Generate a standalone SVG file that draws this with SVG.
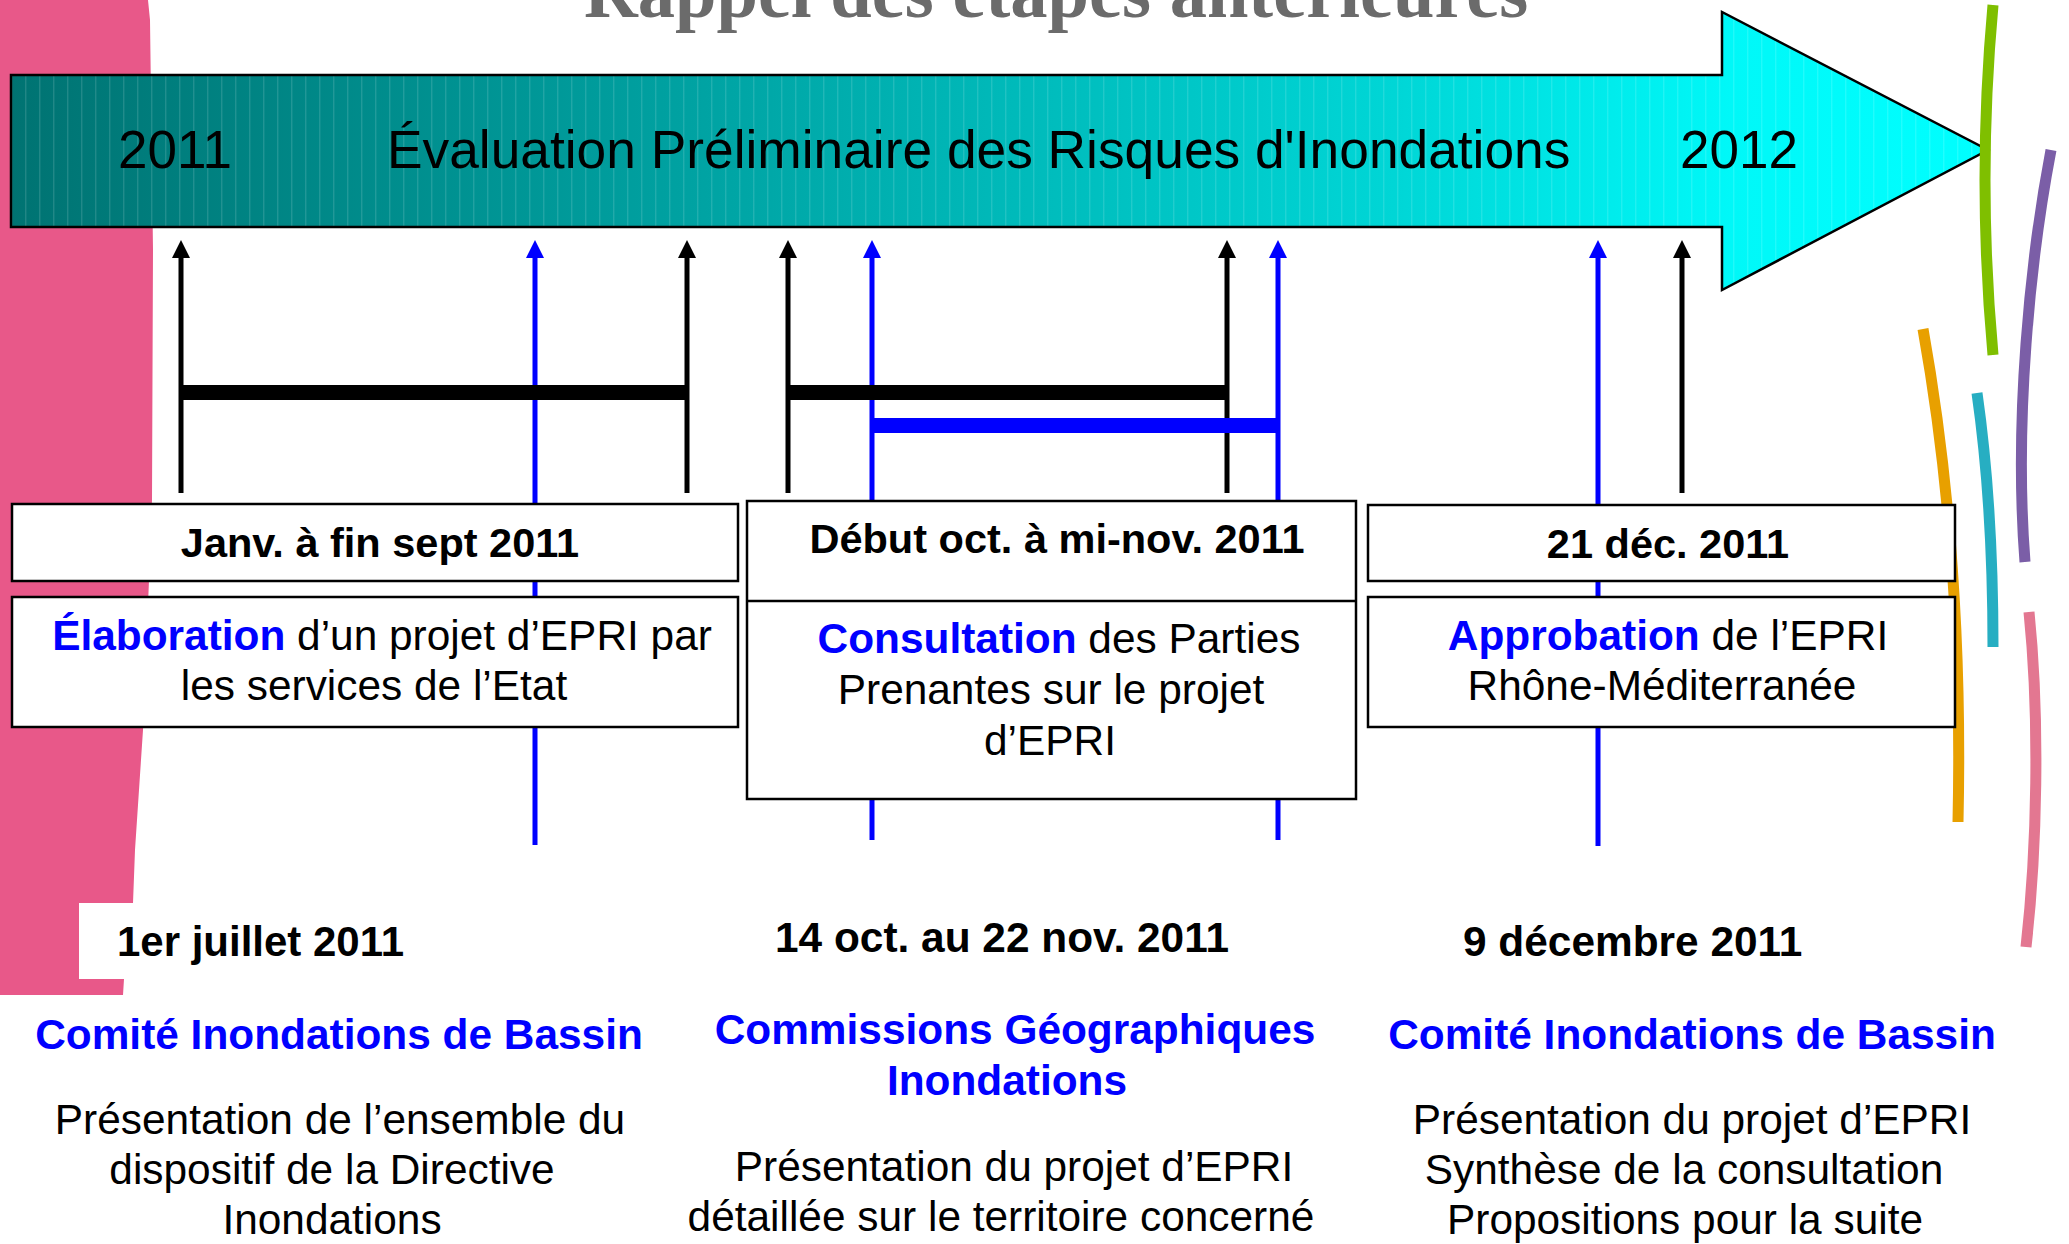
<svg xmlns="http://www.w3.org/2000/svg" width="2069" height="1244" viewBox="0 0 2069 1244">
<style>
.t{font-family:"Liberation Sans",Arial,sans-serif;fill:#000}
.b{font-weight:bold}
.blue{fill:#0000ff}
.f41{font-size:41.5px}
.f42{font-size:42.4px}
.mid{text-anchor:middle}
.box{fill:#fff;stroke:#000;stroke-width:2.5}
.vk{stroke:#000;stroke-width:5;fill:none}
.vb{stroke:#0000ff;stroke-width:5;fill:none}
.arc{fill:none;stroke-width:11}
</style>
<defs>
<linearGradient id="gBanner" x1="11" y1="0" x2="1988" y2="0" gradientUnits="userSpaceOnUse">
<stop offset="0" stop-color="#007372"/>
<stop offset="0.35" stop-color="#00a3a3"/>
<stop offset="0.7" stop-color="#00d6d6"/>
<stop offset="0.87" stop-color="#00f8f8"/>
<stop offset="1" stop-color="#00ffff"/>
</linearGradient>
<pattern id="pStripe" x="11" y="0" width="14" height="20" patternUnits="userSpaceOnUse">
<rect x="0" y="0" width="1.4" height="20" fill="#ffffff" fill-opacity="0.13"/>
</pattern>
<marker id="mK" viewBox="0 0 18 18" refX="8" refY="9" markerWidth="18" markerHeight="18" markerUnits="userSpaceOnUse" orient="auto">
<path d="M0,0 L18,9 L0,18 Z" fill="#000"/>
</marker>
<marker id="mB" viewBox="0 0 18 18" refX="8" refY="9" markerWidth="18" markerHeight="18" markerUnits="userSpaceOnUse" orient="auto">
<path d="M0,0 L18,9 L0,18 Z" fill="#0000ff"/>
</marker>
</defs>

<!-- pink side band -->
<path id="pinkBand" d="M0,0 L148,0 L150,20 L153,250 L152,500 L149,580 L143,730 L135,850 L133,903 L79,903 L79,979 L124,979 L123,995 L0,995 Z" fill="#e85889"/>

<!-- title (cut off at the top edge, as in the reference) -->
<text id="title" x="584" y="17" font-family="'Liberation Serif','Times New Roman',serif" font-weight="bold" font-size="74.5" fill="#6b6b6b">Rappel des étapes antérieures</text>

<!-- banner arrow -->
<g id="banner">
<path d="M11,75 H1722 V12 L1988,150 L1722,290 V227 H11 Z" fill="url(#gBanner)"/>
<path d="M11,75 H1722 V12 L1988,150 L1722,290 V227 H11 Z" fill="url(#pStripe)" stroke="#000" stroke-width="2.5"/>
<text class="t" x="118" y="168" font-size="53">2011</text>
<text class="t" x="387" y="168" font-size="53.3">Évaluation Préliminaire des Risques d'Inondations</text>
<text class="t" x="1680" y="168" font-size="53">2012</text>
</g>

<!-- connectors -->
<g id="connectors">
<line class="vk" x1="181" y1="493" x2="181" y2="250" marker-end="url(#mK)"/>
<line class="vk" x1="687" y1="493" x2="687" y2="250" marker-end="url(#mK)"/>
<line class="vk" x1="788" y1="493" x2="788" y2="250" marker-end="url(#mK)"/>
<line class="vk" x1="1227" y1="493" x2="1227" y2="250" marker-end="url(#mK)"/>
<line class="vk" x1="1682" y1="493" x2="1682" y2="250" marker-end="url(#mK)"/>
<line class="vb" x1="535" y1="845" x2="535" y2="250" marker-end="url(#mB)"/>
<line class="vb" x1="872" y1="840" x2="872" y2="250" marker-end="url(#mB)"/>
<line class="vb" x1="1278" y1="840" x2="1278" y2="250" marker-end="url(#mB)"/>
<line class="vb" x1="1598" y1="846" x2="1598" y2="250" marker-end="url(#mB)"/>
<rect x="181" y="385" width="507" height="15" fill="#000"/>
<rect x="788" y="385" width="440" height="15" fill="#000"/>
<rect x="872" y="418" width="408" height="15" fill="#0000ff"/>
</g>

<!-- decorative arcs -->
<g id="decor">
<path class="arc" stroke="#7fbf00" d="M1993,5 Q1977,180 1993,355"/>
<path class="arc" stroke="#7b5ea7" d="M2051,150 C2030,260 2014,420 2025,562"/>
<path class="arc" stroke="#e8a000" d="M1923,329 C1950,480 1962,640 1958,822"/>
<path class="arc" stroke="#27aec2" d="M1977,393 C1988,470 1993,560 1993,647"/>
<path class="arc" stroke="#e37791" d="M2029,612 C2040,720 2037,850 2026,947"/>
</g>

<!-- left boxes -->
<g id="node-janv">
<rect class="box" x="12" y="504" width="726" height="77"/>
<text class="t b f41 mid" x="380" y="557">Janv. à fin sept 2011</text>
</g>
<g id="node-elaboration">
<rect class="box" x="12" y="597" width="726" height="130"/>
<text class="t f42 mid" x="382" y="650"><tspan class="b blue">Élaboration</tspan> d’un projet d’EPRI par</text>
<text class="t f42 mid" x="374" y="700">les services de l’Etat</text>
</g>

<!-- middle box -->
<g id="node-consultation">
<rect class="box" x="747" y="501" width="609" height="298"/>
<line x1="747" y1="601" x2="1356" y2="601" stroke="#000" stroke-width="2.5"/>
<text class="t b f41 mid" x="1057" y="553">Début oct. à mi-nov. 2011</text>
<text class="t f42 mid" x="1059" y="653"><tspan class="b blue">Consultation</tspan> des Parties</text>
<text class="t f42 mid" x="1051" y="704">Prenantes sur le projet</text>
<text class="t f42 mid" x="1050" y="755">d’EPRI</text>
</g>

<!-- right boxes -->
<g id="node-dec">
<rect class="box" x="1368" y="505" width="587" height="76"/>
<text class="t b f41 mid" x="1668" y="558">21 déc. 2011</text>
</g>
<g id="node-approbation">
<rect class="box" x="1368" y="597" width="587" height="130"/>
<text class="t f42 mid" x="1668" y="650"><tspan class="b blue">Approbation</tspan> de l’EPRI</text>
<text class="t f42 mid" x="1662" y="700">Rhône-Méditerranée</text>
</g>

<!-- bottom left -->
<g id="node-juillet">
<rect x="79" y="903" width="60" height="76" fill="#fff"/>
<text class="t b" x="117" y="956" font-size="43" textLength="287" lengthAdjust="spacingAndGlyphs">1er juillet 2011</text>
<text class="t b f42 blue mid" x="339" y="1049">Comité Inondations de Bassin</text>
<text class="t f42 mid" x="340" y="1134">Présentation de l’ensemble du</text>
<text class="t f42 mid" x="332" y="1184">dispositif de la Directive</text>
<text class="t f42 mid" x="332" y="1234">Inondations</text>
</g>

<!-- bottom middle -->
<g id="node-commissions">
<text class="t b f42" x="775" y="952">14 oct. au 22 nov. 2011</text>
<text class="t b f42 blue mid" x="1015" y="1044">Commissions Géographiques</text>
<text class="t b f42 blue mid" x="1007" y="1095">Inondations</text>
<text class="t f42 mid" x="1014" y="1181">Présentation du projet d’EPRI</text>
<text class="t f42 mid" x="1001" y="1231">détaillée sur le territoire concerné</text>
</g>

<!-- bottom right -->
<g id="node-decembre">
<text class="t b f42" x="1463" y="956">9 décembre 2011</text>
<text class="t b f42 blue mid" x="1692" y="1049">Comité Inondations de Bassin</text>
<text class="t f42 mid" x="1692" y="1134">Présentation du projet d’EPRI</text>
<text class="t f42 mid" x="1684" y="1184">Synthèse de la consultation</text>
<text class="t f42 mid" x="1685" y="1234">Propositions pour la suite</text>
</g>
</svg>
